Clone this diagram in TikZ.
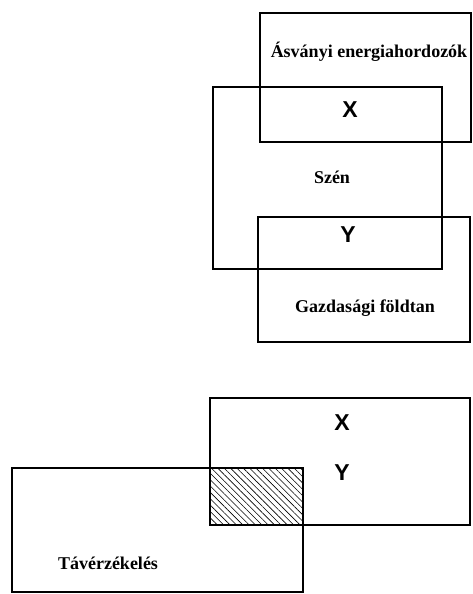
\documentclass[tikz,border=0pt]{standalone}
\usepackage{fontspec}
\setmainfont{Liberation Serif}
\setsansfont{Liberation Sans}
\usetikzlibrary{patterns.meta}
\tikzset{
  box/.style={draw=black, line width=1.6pt},
  boxtext/.style={inner sep=0pt, font=\fontsize{18}{21}\selectfont\bfseries},
  var/.style={inner sep=0pt, font=\fontsize{23}{26}\selectfont\sffamily\bfseries},
  hatch/.style={pattern={Lines[angle=-45, distance=4.5pt, line width=0.6pt]}},
}

\begin{document}
\begin{tikzpicture}[x=1pt, y=-1pt]
\useasboundingbox (0,0) rectangle (473,594);

% upper group
\draw[box] (260,13) rectangle (471,142);
\draw[box] (213,87) rectangle (442,269);
\draw[box] (258,217) rectangle (470,342);

\node[boxtext] (energia) at (369,52) {Ásványi energiahordozók};
\node[var] (x1) at (350,110) {X};
\node[boxtext] (szen) at (332,177) {Szén};
\node[var] (y1) at (348,235) {Y};
\node[boxtext] (foldtan) at (365,308) {Gazdasági földtan};

% lower group
\fill[hatch] (210,468) rectangle (303,525);
\draw[box] (210,398) rectangle (470,525);
\draw[box] (12,468) rectangle (303,592);

\node[var] (x2) at (342,423) {X};
\node[var] (y2) at (342,473) {Y};
\node[boxtext] (taver) at (108,563) {Távérzékelés};

\end{tikzpicture}
\end{document}
